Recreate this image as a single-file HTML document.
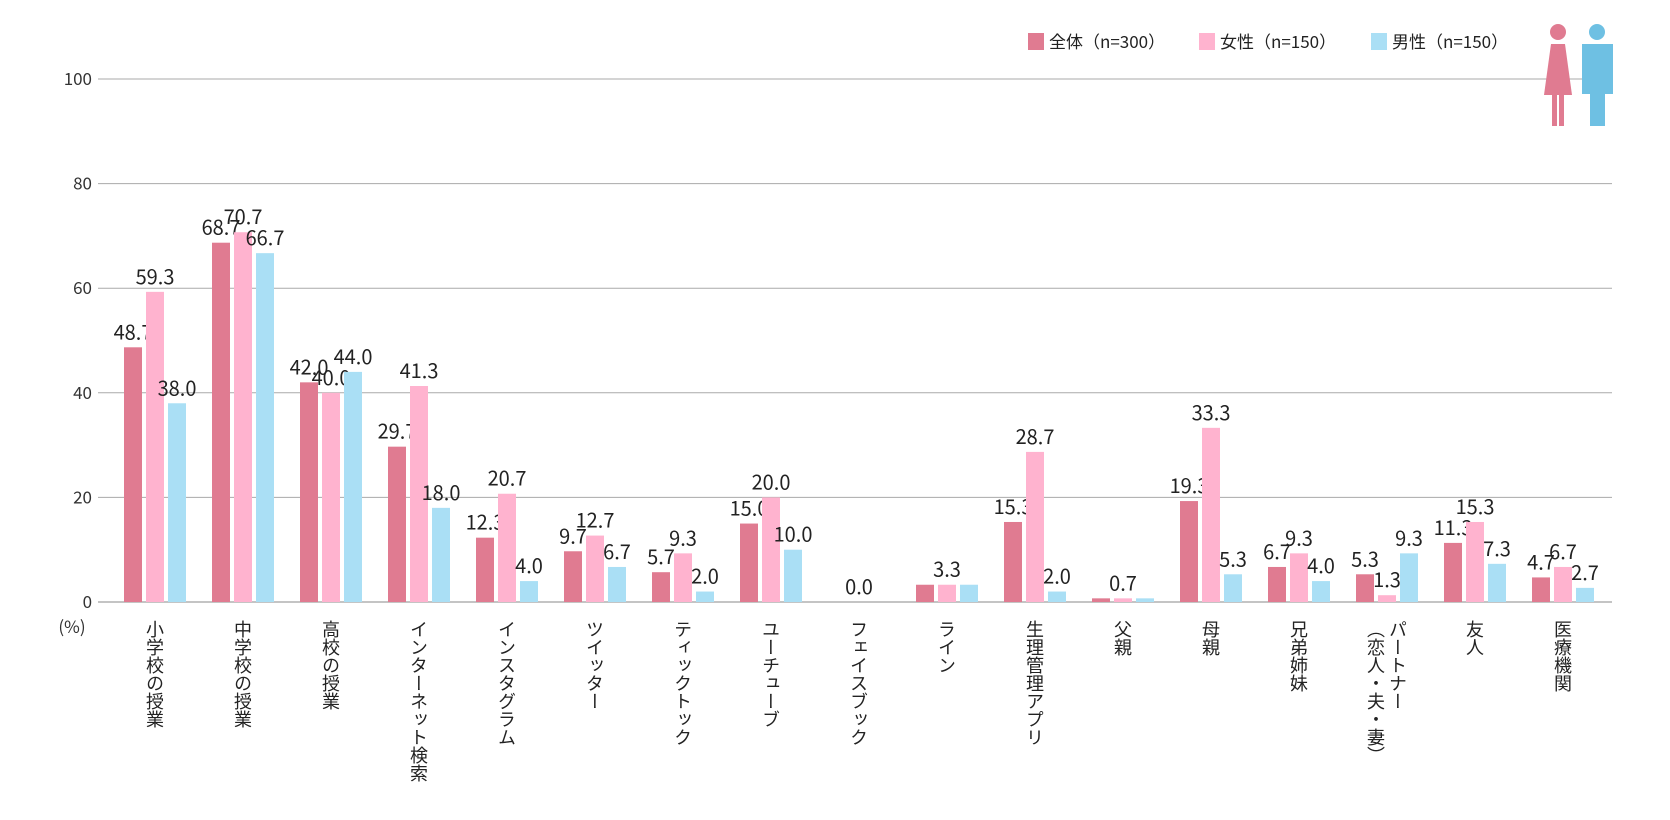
<!DOCTYPE html>
<html><head><meta charset="utf-8">
<style>
html,body{margin:0;padding:0;background:#fff;}
body{width:1670px;height:820px;overflow:hidden;position:relative;font-family:"Noto Sans CJK JP","Liberation Sans",sans-serif;}
svg text{font-family:"Noto Sans CJK JP","Liberation Sans",sans-serif;}
.cat{position:absolute;top:620px;writing-mode:vertical-rl;font-size:18px;line-height:22px;color:#222;white-space:nowrap;transform:translateX(-50%);}
</style></head>
<body>
<svg id="chart" style="position:absolute;left:0;top:0" width="1670" height="820" xmlns="http://www.w3.org/2000/svg"></svg>
<script>
const categories=["小学校の授業","中学校の授業","高校の授業","インターネット検索","インスタグラム","ツイッター","ティックトック","ユーチューブ","フェイスブック","ライン","生理管理アプリ","父親","母親","兄弟姉妹","パートナー|（恋人・夫・妻）","友人","医療機関"];
const allValues=[48.7,68.7,42.0,29.7,12.3,9.7,5.7,15.0,0.0,3.3,15.3,0.7,19.3,6.7,5.3,11.3,4.7];
const femaleValues=[59.3,70.7,40.0,41.3,20.7,12.7,9.3,20.0,0.0,3.3,28.7,0.7,33.3,9.3,1.3,15.3,6.7];
const maleValues=[38.0,66.7,44.0,18.0,4.0,6.7,2.0,10.0,0.0,3.3,2.0,0.7,5.3,4.0,9.3,7.3,2.7];
const yTicks=[0,20,40,60,80,100];
const seriesNames=["全体（n=300）","女性（n=150）","男性（n=150）"];

const NS="http://www.w3.org/2000/svg";
const svg=document.getElementById('chart');
const colors=["#e07b91","#ffb3cf","#aadff5"];
const x0=98,x1=1612,yBase=602,yTop=79;
const y=v=>yBase-(v/100)*(yBase-yTop);
const cx=i=>155+i*88;
function el(t,a){const e=document.createElementNS(NS,t);for(const k in a)e.setAttribute(k,a[k]);svg.appendChild(e);return e;}

yTicks.forEach(t=>{
  const l=el('line',{x1:x0,x2:x1,y1:y(t),y2:y(t),stroke:t===0?'#888':'#aaa','stroke-width':1});
  
  
  const tx=el('text',{x:92,y:y(t)+6,'text-anchor':'end','font-size':17,fill:'#333'});
  tx.textContent=t;
  
  
});
const pct=el('text',{x:72,y:633,'text-anchor':'middle','font-size':17,fill:'#333'});
pct.textContent='(%)';



const series=[allValues,femaleValues,maleValues];
const offs=[-31,-9,13];
categories.forEach((c,i)=>{
  const same=allValues[i]===femaleValues[i]&&femaleValues[i]===maleValues[i];
  series.forEach((s,j)=>{
    const v=s[i];
    const bx=cx(i)+offs[j];
    const r=el('rect',{x:bx,y:y(v),width:18,height:yBase-y(v),fill:colors[j]});
    
    
    if(!same||j===1){
      const t=el('text',{x:bx+9,y:y(v)-8,'text-anchor':'middle','font-size':20,fill:'#222'});
      t.textContent=v.toFixed(1);
      
      
    }
  });
  const d=document.createElement('div');
  d.className='cat';
  d.style.left=cx(i)+'px';
  d.innerHTML=c.split('|').join('<br>');
  
  
  document.body.appendChild(d);
});

const lx=[1028,1199,1371];
seriesNames.forEach((n,j)=>{
  const r=el('rect',{x:lx[j],y:33,width:16,height:17,fill:colors[j]});
  
  
  const t=el('text',{x:lx[j]+21,y:48,'font-size':17,fill:'#222'});
  t.textContent=n;
  
  
});
</script>
<svg style="position:absolute;left:1538px;top:22px" width="80" height="106">
  <g fill="#e07b91">
    <circle cx="20" cy="10" r="8"/>
    <path d="M13 22 H27 L34 73 H6 Z"/>
    <rect x="14" y="70" width="5" height="34"/>
    <rect x="21" y="70" width="5" height="34"/>
  </g>
  <g fill="#6ec0e3">
    <circle cx="59" cy="10" r="8"/>
    <rect x="44" y="22" width="31" height="50"/>
    <rect x="52" y="70" width="15" height="34"/>
  </g>
</svg>
</body></html>
